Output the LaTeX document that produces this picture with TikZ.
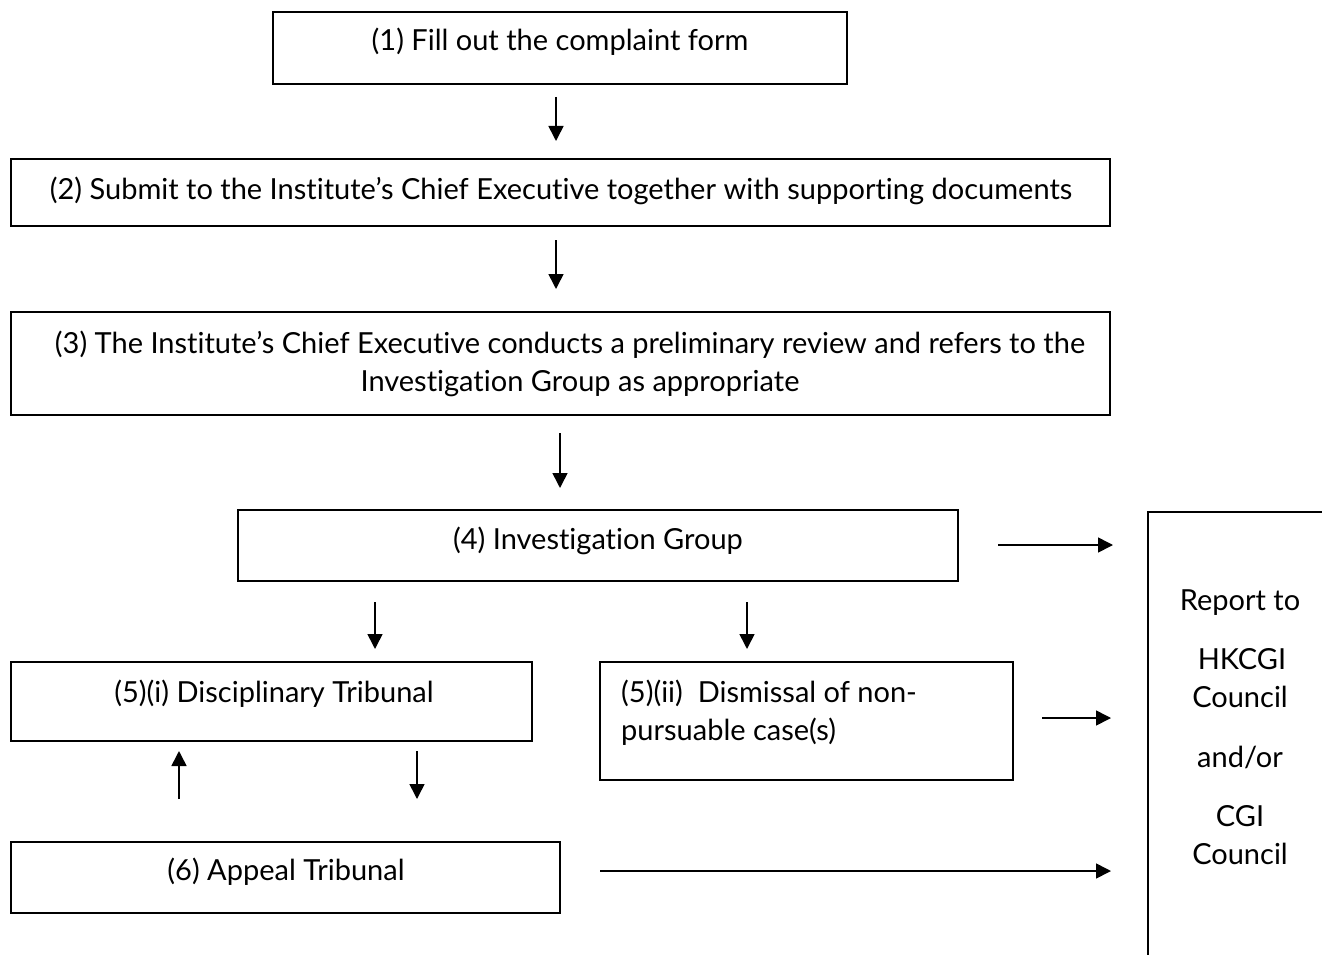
\documentclass[tikz,border=0pt]{standalone}
\usepackage{fontspec}
\setmainfont{Lato}[Ligatures=NoCommon]
\usetikzlibrary{arrows.meta}
\begin{document}
\begin{tikzpicture}[x=1pt,y=-1pt,
  box/.style={draw, line width=1.6pt, inner sep=0pt},
  txt/.style={font=\fontsize{29}{38}\selectfont, inner sep=0pt, anchor=base},
  arr/.style={line width=1.6pt, -{Triangle[length=15pt,width=15pt]}}]
\useasboundingbox (0,0) rectangle (1322,955);
% boxes
\node[box, minimum width=574, minimum height=72] (b1) at (560,48) {};
\node[box, minimum width=1099, minimum height=67] (b2) at (560.5,192.5) {};
\node[box, minimum width=1099, minimum height=103] (b3) at (560.5,363.5) {};
\node[box, minimum width=720, minimum height=71] (b4) at (598,545.5) {};
\node[box, minimum width=521, minimum height=79] (b5a) at (271.5,701.5) {};
\node[box, minimum width=413, minimum height=118] (b5b) at (806.5,721) {};
\node[box, minimum width=549, minimum height=71] (b6) at (285.5,877.5) {};
\draw[line width=1.6pt] (1322,512) -- (1148,512) -- (1148,955);
\coordinate (rb) at (1148,700);
% texts
\node[txt] (t1) at (560,51) {(1) Fill out the complaint form};
\node[txt] (t2) at (561,199) {(2) Submit to the Institute’s Chief Executive together with supporting documents};
\node[txt] (t3a) at (570,353) {(3) The Institute’s Chief Executive conducts a preliminary review and refers to the};
\node[txt] (t3b) at (580,391) {Investigation Group as appropriate};
\node[txt] (t4) at (598,549) {(4) Investigation Group};
\node[txt] (t5a) at (274,702) {(5)(i) Disciplinary Tribunal};
\node[txt, anchor=base west] (t5b1) at (621,702) {(5)(ii) \ Dismissal of non-};
\node[txt, anchor=base west] (t5b2) at (621,740) {pursuable case(s)};
\node[txt] (t6) at (286,880) {(6) Appeal Tribunal};
\node[txt] (r1) at (1240,610) {Report to};
\node[txt] (r2) at (1242,669) {HKCGI};
\node[txt] (r3) at (1240,707) {Council};
\node[txt] (r4) at (1240,767) {and/or};
\node[txt] (r5) at (1240,826) {CGI};
\node[txt] (r6) at (1240,864) {Council};
% arrow coordinates
\coordinate (a1s) at (556,97);  \coordinate (a1e) at (556,141);
\coordinate (a2s) at (556,240); \coordinate (a2e) at (556,289);
\coordinate (a3s) at (560,433); \coordinate (a3e) at (560,488);
\coordinate (a4s) at (998,545); \coordinate (a4e) at (1113,545);
\coordinate (a5s) at (375,602); \coordinate (a5e) at (375,649);
\coordinate (a6s) at (747,602); \coordinate (a6e) at (747,649);
\coordinate (a7s) at (1042,718); \coordinate (a7e) at (1111,718);
\coordinate (a8s) at (179,799); \coordinate (a8e) at (179,751);
\coordinate (a9s) at (417,751); \coordinate (a9e) at (417,799);
\coordinate (a10s) at (600,871); \coordinate (a10e) at (1111,871);
\foreach \i in {1,...,10} \draw[arr] (a\i s) -- (a\i e);
\end{tikzpicture}
\end{document}
